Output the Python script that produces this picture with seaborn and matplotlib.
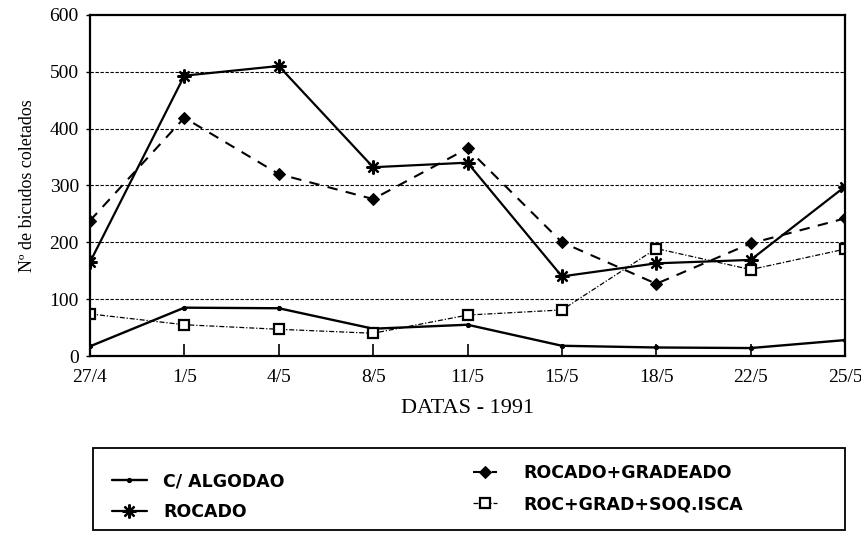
import matplotlib
matplotlib.use("Agg")
import matplotlib.pyplot as plt
import seaborn as sns
from matplotlib.patches import Rectangle

dates = ["27/4", "1/5", "4/5", "8/5", "11/5", "15/5", "18/5", "22/5", "25/5"]
c_algodao = [17, 85, 84, 48, 55, 18, 15, 14, 28]
rocado = [165, 493, 510, 332, 340, 140, 163, 169, 298]
rocado_gradeado = [238, 419, 320, 276, 365, 200, 127, 198, 242]
roc_grad_soq = [74, 55, 47, 40, 72, 81, 189, 152, 188]

labels = ["C/ ALGODAO", "ROCADO", "ROCADO+GRADEADO", "ROC+GRAD+SOQ.ISCA"]
y_ticks = [0, 100, 200, 300, 400, 500, 600]

sns.set_theme(style="white")
plt.rcParams["font.family"] = ["Liberation Serif", "DejaVu Serif"]
for key in ["text.color", "axes.labelcolor", "xtick.color", "ytick.color"]:
    plt.rcParams[key] = "black"

fig = plt.figure(figsize=(8.61, 5.39), dpi=100)
ax = fig.add_axes([0.1045, 0.3395, 0.877, 0.633])

sns.lineplot(x=dates, y=c_algodao, ax=ax, color="black", lw=1.7,
             marker="o", markersize=3, markeredgecolor="black", sort=False)
sns.lineplot(x=dates, y=rocado, ax=ax, color="black", lw=1.6,
             marker=(8, 2, 0), markersize=10, markeredgewidth=1.6,
             markeredgecolor="black", sort=False)
sns.lineplot(x=dates, y=rocado_gradeado, ax=ax, color="black", lw=1.5,
             marker="D", markersize=6, markeredgecolor="black",
             markerfacecolor="black", sort=False)
ax.lines[-1].set_dashes((5, 4))
sns.lineplot(x=dates, y=roc_grad_soq, ax=ax, color="black", lw=0.9,
             marker="s", markersize=7, markerfacecolor="white",
             markeredgecolor="black", markeredgewidth=1.6, sort=False)
ax.lines[-1].set_dashes((4, 1.5, 1, 1.5))

ax.set_xlim(0, len(dates) - 1)
ax.set_ylim(0, 600)
ax.set_yticks(y_ticks)
for v in y_ticks[1:-1]:
    ax.axhline(v, color="black", lw=0.8, ls=(0, (3, 1.5)), zorder=0)

for side in ["left", "right", "top", "bottom"]:
    ax.spines[side].set_visible(True)
    ax.spines[side].set_color("black")
    ax.spines[side].set_linewidth(1.6)

ax.tick_params(axis="x", direction="in", length=9, width=1.2, pad=9,
               labelsize=14, bottom=True)
ax.tick_params(axis="y", direction="out", length=3, width=1.0, pad=5,
               labelsize=14, left=True)
ax.set_xlabel("DATAS - 1991", fontsize=16, labelpad=10)
ax.set_ylabel("Nº de bicudos coletados", fontsize=13, labelpad=10)

# legend: two single-column legends inside one hand-drawn box
handles = ax.lines[:4]
leg_font = {"family": "DejaVu Sans", "weight": "bold", "size": 12.5}
common = dict(loc="upper left", frameon=False, prop=leg_font,
              labelspacing=0.75, borderpad=0, borderaxespad=0)
fig.legend(handles[:2], labels[:2], bbox_to_anchor=(112 / 861, 1 - 472 / 539),
           handlelength=2.0, handletextpad=0.95, **common)
fig.legend(handles[2:], labels[2:], bbox_to_anchor=(473 / 861, 1 - 464 / 539),
           handlelength=1.4, handletextpad=1.5, **common)
fig.patches.append(Rectangle((93 / 861, 1 - 530 / 539), (845 - 93) / 861, 82 / 539,
                             transform=fig.transFigure, fill=False,
                             edgecolor="black", lw=1.3))

fig.savefig("out.png", dpi=100)
